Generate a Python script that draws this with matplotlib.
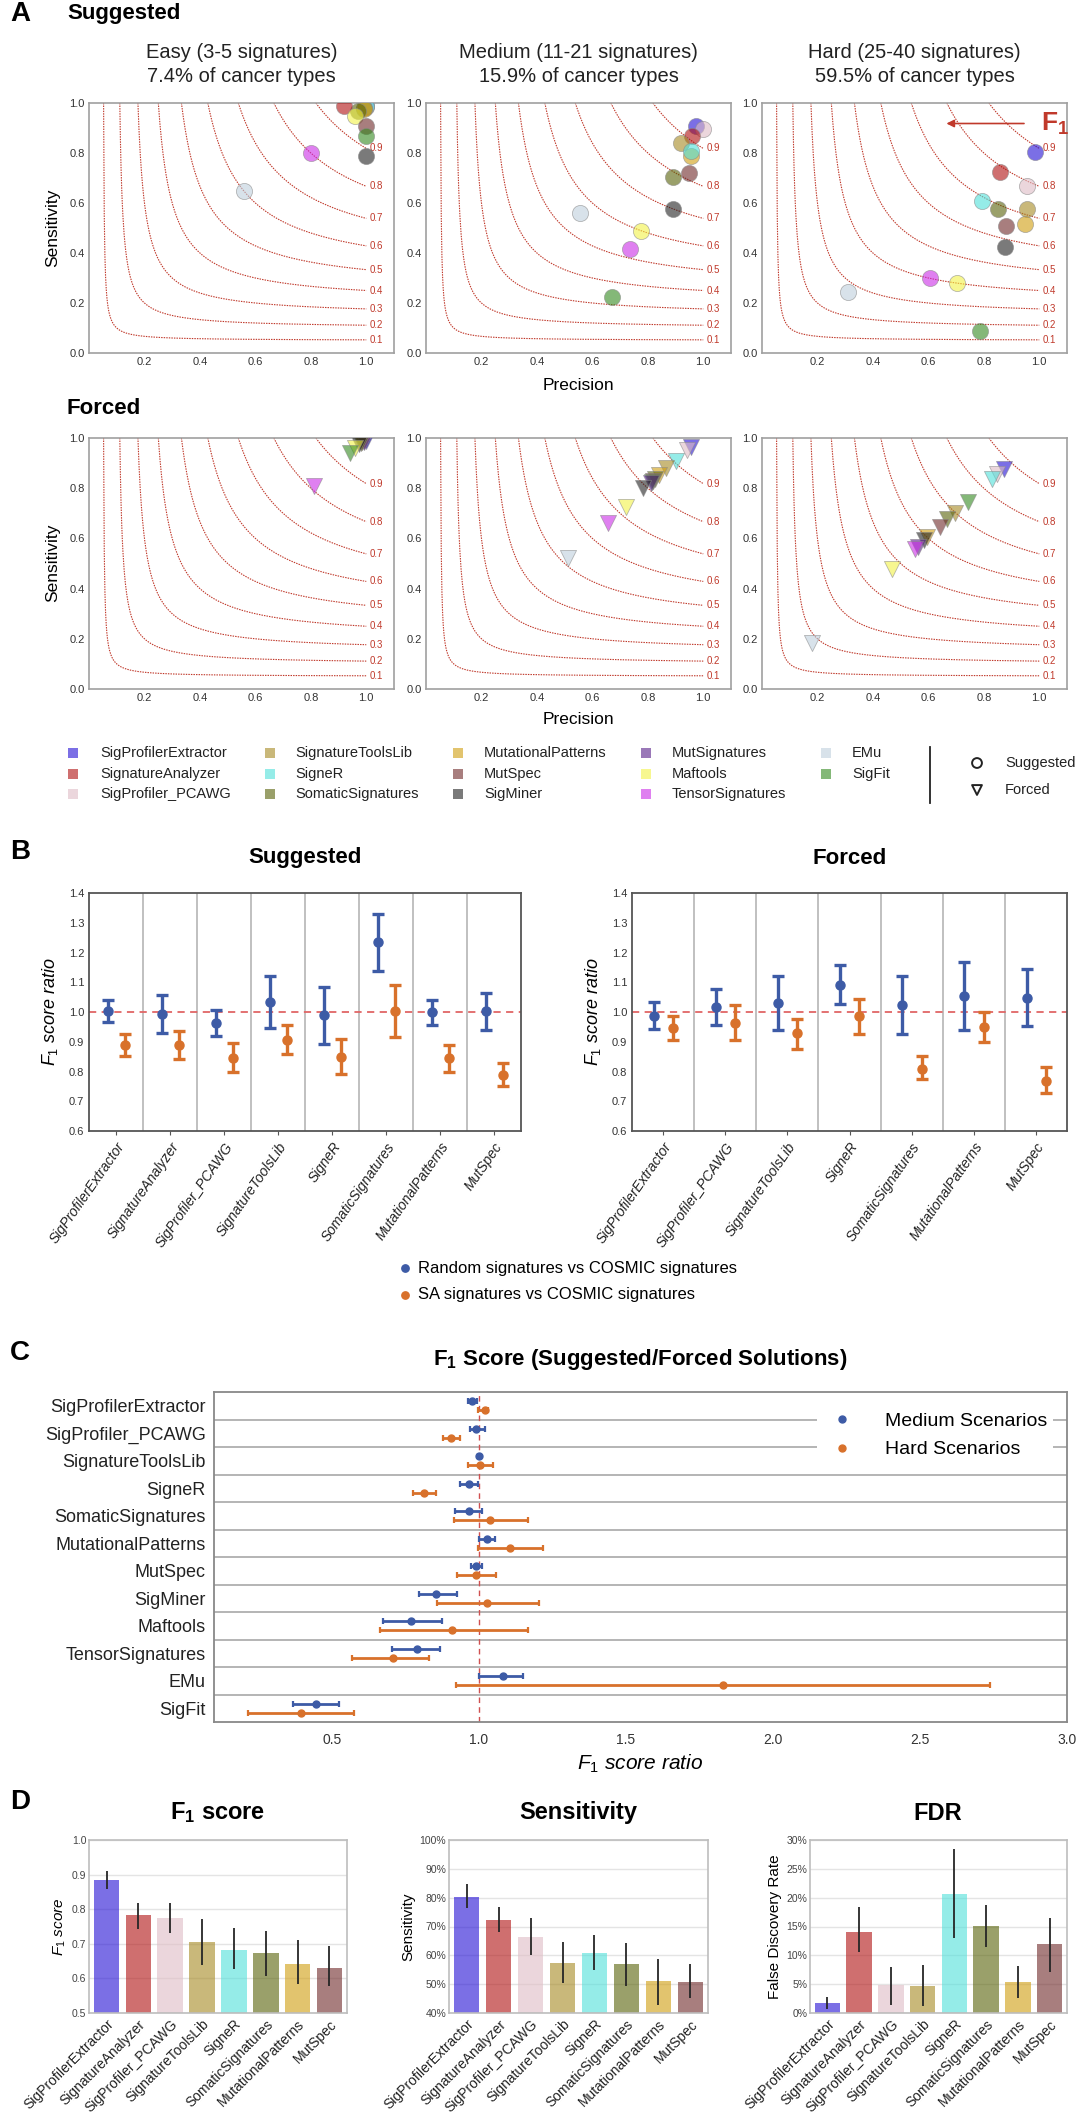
import numpy as np
import matplotlib
matplotlib.use("Agg")
import matplotlib.pyplot as plt
from matplotlib.lines import Line2D

plt.rcParams['font.family'] = ['Liberation Sans', 'DejaVu Sans']
plt.rcParams['mathtext.fontset'] = 'custom'
plt.rcParams['mathtext.rm'] = 'Liberation Sans'
plt.rcParams['mathtext.it'] = 'Liberation Sans:italic'
plt.rcParams['mathtext.bf'] = 'Liberation Sans:bold'

# ---------------- data ----------------
tool_names = ["SigProfilerExtractor", "SignatureAnalyzer", "SigProfiler_PCAWG",
              "SignatureToolsLib", "SigneR", "SomaticSignatures",
              "MutationalPatterns", "MutSpec", "SigMiner",
              "MutSignatures", "Maftools", "TensorSignatures",
              "EMu", "SigFit"]
tool_colors = ["#230fd5", "#b01010", "#dfbcc5",
               "#a58921", "#4fe0da", "#576107",
               "#d09d0d", "#6e2828", "#212121",
               "#571e89", "#f3f346", "#cb2be6",
               "#becfdc", "#32891e"]
col = dict(zip(tool_names, tool_colors))

f1_levels = [0.1, 0.2, 0.3, 0.4, 0.5, 0.6, 0.7, 0.8, 0.9]

# panel A, suggested
easy_sug_tools = ["SigProfilerExtractor", "SigProfiler_PCAWG", "SigneR", "SignatureToolsLib",
                  "MutationalPatterns", "SomaticSignatures", "SignatureAnalyzer", "Maftools",
                  "MutSpec", "SigFit", "SigMiner", "TensorSignatures", "EMu"]
easy_sug_prec = [1.0, 1.0, 1.0, 0.99, 0.99, 0.97, 0.92, 0.96, 1.0, 1.0, 1.0, 0.80, 0.56]
easy_sug_sens = [0.99, 0.985, 0.99, 0.98, 0.975, 0.97, 0.99, 0.95, 0.91, 0.87, 0.79, 0.80, 0.65]

med_sug_tools = ["SigProfilerExtractor", "SigProfiler_PCAWG", "SignatureAnalyzer", "SignatureToolsLib",
                 "MutationalPatterns", "SigneR", "SomaticSignatures", "MutSpec", "SigMiner",
                 "EMu", "Maftools", "TensorSignatures", "SigFit"]
med_sug_prec = [0.975, 1.0, 0.96, 0.92, 0.955, 0.955, 0.89, 0.95, 0.89, 0.555, 0.775, 0.735, 0.67]
med_sug_sens = [0.91, 0.895, 0.868, 0.84, 0.79, 0.81, 0.705, 0.72, 0.575, 0.56, 0.49, 0.415, 0.225]

hard_sug_tools = ["SigProfilerExtractor", "SignatureAnalyzer", "SigProfiler_PCAWG", "SigneR",
                  "SomaticSignatures", "SignatureToolsLib", "MutSpec", "MutationalPatterns",
                  "SigMiner", "TensorSignatures", "Maftools", "EMu", "SigFit"]
hard_sug_prec = [0.985, 0.86, 0.955, 0.795, 0.85, 0.955, 0.88, 0.95, 0.875, 0.605, 0.705, 0.31, 0.785]
hard_sug_sens = [0.805, 0.725, 0.67, 0.61, 0.575, 0.575, 0.51, 0.515, 0.425, 0.30, 0.28, 0.245, 0.09]

# panel A, forced
easy_for_tools = ["EMu", "SigneR", "SigProfilerExtractor", "SigProfiler_PCAWG", "SignatureToolsLib",
                  "MutationalPatterns", "MutSpec", "MutSignatures", "SomaticSignatures",
                  "SigMiner", "Maftools", "SigFit", "TensorSignatures"]
easy_for_prec = [1.0, 1.0, 1.0, 0.99, 0.99, 0.98, 0.985, 0.99, 0.98, 0.975, 0.96, 0.94, 0.81]
easy_for_sens = [0.995, 0.995, 0.99, 0.995, 0.99, 0.99, 0.985, 0.985, 0.98, 0.975, 0.96, 0.94, 0.81]

med_for_tools = ["SigProfilerExtractor", "SigProfiler_PCAWG", "SigneR", "SignatureToolsLib",
                 "MutationalPatterns", "SomaticSignatures", "MutSpec", "SigFit", "MutSignatures",
                 "SigMiner", "Maftools", "TensorSignatures", "EMu"]
med_for_prec = [0.957, 0.942, 0.90, 0.867, 0.84, 0.827, 0.82, 0.815, 0.81, 0.783, 0.72, 0.655, 0.512]
med_for_sens = [0.965, 0.952, 0.91, 0.882, 0.853, 0.835, 0.83, 0.826, 0.82, 0.80, 0.724, 0.66, 0.521]

hard_for_tools = ["SigProfilerExtractor", "SigProfiler_PCAWG", "SigneR", "SigFit", "SignatureToolsLib",
                  "SomaticSignatures", "MutSpec", "MutationalPatterns", "SigMiner", "MutSignatures",
                  "TensorSignatures", "Maftools", "EMu"]
hard_for_prec = [0.871, 0.846, 0.83, 0.744, 0.697, 0.668, 0.641, 0.595, 0.586, 0.561, 0.552, 0.468, 0.18]
hard_for_sens = [0.875, 0.857, 0.835, 0.746, 0.70, 0.676, 0.647, 0.604, 0.594, 0.567, 0.557, 0.477, 0.182]

# panel B
b_sug_tools = ["SigProfilerExtractor", "SignatureAnalyzer", "SigProfiler_PCAWG", "SignatureToolsLib",
               "SigneR", "SomaticSignatures", "MutationalPatterns", "MutSpec"]
b_sug_rand = [1.003, 0.993, 0.963, 1.034, 0.989, 1.234, 0.999, 1.002]
b_sug_rand_lo = [0.965, 0.93, 0.918, 0.946, 0.894, 1.139, 0.955, 0.941]
b_sug_rand_hi = [1.04, 1.056, 1.006, 1.12, 1.084, 1.33, 1.039, 1.064]
b_sug_sa = [0.89, 0.89, 0.845, 0.905, 0.849, 1.002, 0.845, 0.789]
b_sug_sa_lo = [0.853, 0.842, 0.798, 0.859, 0.79, 0.915, 0.798, 0.751]
b_sug_sa_hi = [0.926, 0.935, 0.896, 0.955, 0.91, 1.092, 0.89, 0.83]

b_for_tools = ["SigProfilerExtractor", "SigProfiler_PCAWG", "SignatureToolsLib", "SigneR",
               "SomaticSignatures", "MutationalPatterns", "MutSpec"]
b_for_rand = [0.988, 1.017, 1.03, 1.092, 1.025, 1.053, 1.047]
b_for_rand_lo = [0.944, 0.957, 0.938, 1.027, 0.927, 0.938, 0.952]
b_for_rand_hi = [1.034, 1.078, 1.12, 1.157, 1.122, 1.167, 1.145]
b_for_sa = [0.946, 0.963, 0.929, 0.985, 0.81, 0.948, 0.769]
b_for_sa_lo = [0.905, 0.905, 0.877, 0.927, 0.774, 0.898, 0.727]
b_for_sa_hi = [0.985, 1.024, 0.978, 1.044, 0.851, 0.999, 0.816]

# panel C
c_tools = ["SigProfilerExtractor", "SigProfiler_PCAWG", "SignatureToolsLib", "SigneR",
           "SomaticSignatures", "MutationalPatterns", "MutSpec", "SigMiner", "Maftools",
           "TensorSignatures", "EMu", "SigFit"]
c_med = [0.978, 0.992, 1.001, 0.966, 0.966, 1.029, 0.992, 0.856, 0.77, 0.789, 1.081, 0.448]
c_med_lo = [0.963, 0.97, 0.996, 0.936, 0.918, 1.002, 0.974, 0.797, 0.675, 0.706, 1.002, 0.368]
c_med_hi = [0.993, 1.02, 1.006, 0.999, 1.011, 1.054, 1.011, 0.925, 0.876, 0.87, 1.15, 0.526]
c_hard = [1.02, 0.905, 1.006, 0.814, 1.038, 1.106, 0.99, 1.029, 0.91, 0.709, 1.831, 0.395]
c_hard_lo = [0.997, 0.878, 0.963, 0.777, 0.917, 0.999, 0.925, 0.857, 0.664, 0.569, 0.923, 0.215]
c_hard_hi = [1.03, 0.936, 1.05, 0.855, 1.169, 1.22, 1.059, 1.204, 1.169, 0.832, 2.739, 0.575]

# panel D
d_tools = ["SigProfilerExtractor", "SignatureAnalyzer", "SigProfiler_PCAWG", "SignatureToolsLib",
           "SigneR", "SomaticSignatures", "MutationalPatterns", "MutSpec"]
d_f1 = [0.884, 0.783, 0.776, 0.706, 0.683, 0.674, 0.643, 0.631]
d_f1_lo = [0.858, 0.742, 0.73, 0.64, 0.626, 0.607, 0.583, 0.577]
d_f1_hi = [0.91, 0.819, 0.819, 0.773, 0.746, 0.737, 0.71, 0.693]
d_sens = [80.3, 72.4, 66.2, 57.5, 60.8, 57.1, 51.0, 50.7]
d_sens_lo = [76.5, 68.1, 60.0, 50.4, 54.8, 49.3, 42.7, 45.3]
d_sens_hi = [84.6, 76.6, 73.0, 64.6, 67.0, 64.3, 58.9, 56.9]
d_fdr = [1.8, 14.1, 4.8, 4.7, 20.6, 15.1, 5.3, 12.0]
d_fdr_lo = [0.75, 10.6, 1.4, 1.2, 13.0, 11.4, 2.6, 7.1]
d_fdr_hi = [2.8, 18.4, 8.0, 8.3, 28.4, 18.8, 8.1, 16.4]

RED = "#c0392b"
BLUE = "#3d5ba6"
ORANGE = "#d8712b"

W, H = 1080, 2115
fig = plt.figure(figsize=(10.8, 21.15), dpi=100)


def px_axes(l, t, r, b):
    return fig.add_axes([l / W, 1 - b / H, (r - l) / W, (b - t) / H])


def f1_panel(ax, tools, prec, sens, marker, show_y):
    for f in f1_levels:
        p = np.linspace(f / (2 - f), 1.0, 400)
        r = f * p / (2 * p - f)
        ax.plot(p, r, color=RED, lw=0.8, ls=(0, (1.3, 1.0)), zorder=1)
        ax.text(1.012, f / (2 - f), f"{f:.1f}", color=RED, fontsize=7,
                ha="left", va="center", zorder=2)
    for t, x, y in zip(tools, prec, sens):
        ax.scatter(x, y, s=135, marker=marker, color=col[t], alpha=0.6,
                   edgecolors="#8a8a8a", linewidths=0.6, zorder=3)
    ax.set_xlim(0, 1.1)
    ax.set_ylim(0, 1.0)
    ax.set_xticks([0.2, 0.4, 0.6, 0.8, 1.0])
    ax.set_xticklabels(["0.2", "0.4", "0.6", "0.8", "1.0"])
    ax.set_yticks([0, 0.2, 0.4, 0.6, 0.8, 1.0])
    ax.set_yticklabels(["0.0", "0.2", "0.4", "0.6", "0.8", "1.0"])
    ax.tick_params(length=0, labelsize=8, labelcolor="#333333", pad=3)
    for s in ax.spines.values():
        s.set_color("#a0a0a0")
        s.set_linewidth(1.2)


cols_px = [(89, 394), (426, 731), (762, 1067)]
sug_sets = [(easy_sug_tools, easy_sug_prec, easy_sug_sens),
            (med_sug_tools, med_sug_prec, med_sug_sens),
            (hard_sug_tools, hard_sug_prec, hard_sug_sens)]
for_sets = [(easy_for_tools, easy_for_prec, easy_for_sens),
            (med_for_tools, med_for_prec, med_for_sens),
            (hard_for_tools, hard_for_prec, hard_for_sens)]

for i, (l, r) in enumerate(cols_px):
    ax = px_axes(l, 103, r, 353)
    f1_panel(ax, *sug_sets[i], "o", i == 0)
    if i == 2:
        ax.annotate("", xy=(0.655, 0.918), xytext=(0.955, 0.918),
                    arrowprops=dict(arrowstyle="-|>", color=RED, lw=1.2, mutation_scale=11))
        ax.text(1.005, 0.918, r"$\mathbf{F_1}$", color=RED, fontsize=19,
                ha="left", va="center", zorder=4)
    ax2 = px_axes(l, 438, r, 689)
    f1_panel(ax2, *for_sets[i], "v", i == 0)

# ---------------- panel B ----------------
def ratio_panel(ax, tools, rnd, rlo, rhi, sa, slo, shi):
    x = np.arange(len(tools))
    rnd, rlo, rhi = np.array(rnd), np.array(rlo), np.array(rhi)
    sa, slo, shi = np.array(sa), np.array(slo), np.array(shi)
    for i in range(len(tools) - 1):
        ax.axvline(i + 0.5, color="#b5b5b5", lw=1.2, zorder=1)
    ax.axhline(1.0, color="#e06666", ls=(0, (4, 3)), lw=1.3, zorder=1)
    ax.errorbar(x - 0.15, rnd, yerr=[rnd - rlo, rhi - rnd], fmt="o", color=BLUE,
                ms=6.5, elinewidth=2.4, capsize=4.5, capthick=2.4, zorder=3)
    ax.errorbar(x + 0.16, sa, yerr=[sa - slo, shi - sa], fmt="o", color=ORANGE,
                ms=6.5, elinewidth=2.4, capsize=4.5, capthick=2.4, zorder=3)
    ax.set_xlim(-0.5, len(tools) - 0.5)
    ax.set_ylim(0.6, 1.4)
    ax.set_yticks(np.arange(0.6, 1.41, 0.1))
    ax.set_yticklabels([f"{v:.1f}" for v in np.arange(0.6, 1.41, 0.1)])
    ax.set_xticks(x)
    ax.set_xticklabels(tools, rotation=55, ha="right", rotation_mode="anchor",
                       fontsize=10, style="italic")
    ax.tick_params(axis="y", length=0, labelsize=8, labelcolor="#333333")
    ax.tick_params(axis="x", length=3, color="#555555", labelcolor="#222222")
    ax.set_ylabel(r"$F_1$ score ratio", fontsize=13, style="italic", labelpad=6)
    for s in ax.spines.values():
        s.set_color("#555555")
        s.set_linewidth(1.3)


axb1 = px_axes(89, 893, 521, 1131)
ratio_panel(axb1, b_sug_tools, b_sug_rand, b_sug_rand_lo, b_sug_rand_hi,
            b_sug_sa, b_sug_sa_lo, b_sug_sa_hi)
axb2 = px_axes(632, 893, 1067, 1131)
ratio_panel(axb2, b_for_tools, b_for_rand, b_for_rand_lo, b_for_rand_hi,
            b_for_sa, b_for_sa_lo, b_for_sa_hi)

# ---------------- panel C ----------------
axc = px_axes(214, 1392, 1067, 1722)
yc = np.arange(len(c_tools))
cm, cml, cmh = np.array(c_med), np.array(c_med_lo), np.array(c_med_hi)
ch, chl, chh = np.array(c_hard), np.array(c_hard_lo), np.array(c_hard_hi)
for i in range(1, len(c_tools)):
    axc.axhline(i - 0.5, color="#a8a8a8", lw=1.2, zorder=1)
axc.axvline(1.0, color="#d05050", ls=(0, (4, 3)), lw=1.0, zorder=1)
axc.errorbar(cm, yc - 0.16, xerr=[cm - cml, cmh - cm], fmt="o", color=BLUE,
             ms=5, elinewidth=2, capsize=2.5, capthick=1.6, zorder=3)
axc.errorbar(ch, yc + 0.16, xerr=[ch - chl, chh - ch], fmt="o", color=ORANGE,
             ms=5, elinewidth=2, capsize=2.5, capthick=1.6, zorder=3)
axc.set_xlim(0.1, 3.0)
axc.set_ylim(len(c_tools) - 0.5, -0.5)
axc.set_yticks(yc)
axc.set_yticklabels(c_tools, fontsize=13)
axc.set_xticks([0.5, 1.0, 1.5, 2.0, 2.5, 3.0])
axc.set_xticklabels(["0.5", "1.0", "1.5", "2.0", "2.5", "3.0"])
axc.tick_params(axis="x", length=0, labelsize=10, labelcolor="#333333", pad=8)
axc.tick_params(axis="y", length=0, labelcolor="#222222", pad=6)
axc.set_xlabel(r"$F_1$ score ratio", fontsize=15, style="italic", labelpad=4)
for s in axc.spines.values():
    s.set_color("#888888")
    s.set_linewidth(1.3)
leg_handles = [Line2D([], [], ls="none", marker="o", ms=5, color=BLUE),
               Line2D([], [], ls="none", marker="o", ms=5, color=ORANGE)]
leg = axc.legend(leg_handles, ["Medium Scenarios", "Hard Scenarios"], loc="upper right",
                 bbox_to_anchor=(0.995, 0.985), fontsize=14, frameon=True,
                 handletextpad=1.2, labelspacing=0.55, borderpad=0.3)
leg.get_frame().set_edgecolor("none")
leg.get_frame().set_facecolor("white")
leg.get_frame().set_alpha(1)

# ---------------- panel D ----------------
def bar_panel(ax, vals, lo, hi, ylim, ticks, ticklabels, ylabel, ystyle="normal"):
    x = np.arange(len(d_tools))
    ax.bar(x, vals, width=0.8, color=[col[t] for t in d_tools], alpha=0.6,
           zorder=2, bottom=0)
    ax.vlines(x, lo, hi, color="#262626", lw=1.3, zorder=3)
    ax.set_xlim(-0.55, len(d_tools) - 0.45)
    ax.set_ylim(*ylim)
    ax.set_yticks(ticks)
    ax.set_yticklabels(ticklabels)
    ax.yaxis.grid(True, color="#e4e4e4", lw=1)
    ax.set_axisbelow(True)
    ax.set_xticks(x)
    ax.set_xticklabels(d_tools, rotation=45, ha="right", rotation_mode="anchor", fontsize=10)
    ax.tick_params(axis="y", length=0, labelsize=7.5, labelcolor="#444444", pad=2)
    ax.tick_params(axis="x", length=0, pad=3, labelcolor="#222222")
    ax.set_ylabel(ylabel, fontsize=11, style=ystyle, labelpad=3)
    for s in ax.spines.values():
        s.set_color("#bdbdbd")
        s.set_linewidth(1.2)


axd1 = px_axes(89, 1840, 347, 2013)
bar_panel(axd1, d_f1, d_f1_lo, d_f1_hi, (0.5, 1.0), [0.5, 0.6, 0.7, 0.8, 0.9, 1.0],
          ["0.5", "0.6", "0.7", "0.8", "0.9", "1.0"], r"$F_1$ score", "italic")
axd2 = px_axes(449, 1840, 708, 2013)
bar_panel(axd2, d_sens, d_sens_lo, d_sens_hi, (40, 100), [40, 50, 60, 70, 80, 90, 100],
          ["40%", "50%", "60%", "70%", "80%", "90%", "100%"], "Sensitivity")
axd3 = px_axes(810, 1840, 1067, 2013)
bar_panel(axd3, d_fdr, d_fdr_lo, d_fdr_hi, (0, 30), [0, 5, 10, 15, 20, 25, 30],
          ["0%", "5%", "10%", "15%", "20%", "25%", "30%"], "False Discovery Rate")

# ---------------- overlay texts ----------------
ov = fig.add_axes([0, 0, 1, 1])
ov.set_xlim(0, W)
ov.set_ylim(H, 0)
ov.axis("off")

ov.text(10, 14, "A", fontsize=20, fontweight="bold", va="center", ha="left")
ov.text(67, 14, "Suggested", fontsize=16, fontweight="bold", va="center", ha="left")
ov.text(67, 408, "Forced", fontsize=16, fontweight="bold", va="center", ha="left")
titles1 = ["Easy (3-5 signatures)", "Medium (11-21 signatures)", "Hard (25-40 signatures)"]
titles2 = ["7.4% of cancer types", "15.9% of cancer types", "59.5% of cancer types"]
for (l, r), t1, t2 in zip(cols_px, titles1, titles2):
    ov.text((l + r) / 2, 52, t1, fontsize=14.5, ha="center", va="center", color="#222222")
    ov.text((l + r) / 2, 76, t2, fontsize=14.5, ha="center", va="center", color="#222222")
for yc_ in (228, 563):
    ov.text(53, yc_, "Sensitivity", fontsize=12.5, rotation=90, ha="center", va="center")
ov.text(578, 386, "Precision", fontsize=12.5, ha="center", va="center")
ov.text(578, 720, "Precision", fontsize=12.5, ha="center", va="center")

# legend of panel A
leg_cols_x = [(73, 100), (270, 295), (458, 484), (646, 672), (826, 852)]
leg_rows_y = [753, 774, 794]
for k, name in enumerate(tool_names):
    cx, tx = leg_cols_x[k // 3]
    ry = leg_rows_y[k % 3]
    ov.scatter(cx, ry, marker="s", s=45, color=col[name], alpha=0.6, edgecolors="none")
    ov.text(tx, ry, name, fontsize=10.5, ha="left", va="center", color="#222222")
ov.plot([930, 930], [747, 803], color="#222222", lw=1.3)
ov.scatter(977, 763, marker="o", s=50, facecolors="none", edgecolors="#222222", linewidths=1.4)
ov.scatter(977, 790, marker="v", s=50, facecolors="none", edgecolors="#222222", linewidths=1.4)
ov.text(1005, 763, "Suggested", fontsize=10.5, ha="left", va="center", color="#222222")
ov.text(1005, 790, "Forced", fontsize=10.5, ha="left", va="center", color="#222222")

# panel B labels
ov.text(10, 852, "B", fontsize=20, fontweight="bold", va="center", ha="left")
ov.text(305, 858, "Suggested", fontsize=16, fontweight="bold", va="center", ha="center")
ov.text(850, 858, "Forced", fontsize=16, fontweight="bold", va="center", ha="center")
ov.scatter(405, 1268, s=28, color=BLUE)
ov.scatter(405, 1295, s=28, color=ORANGE)
ov.text(418, 1268, "Random signatures vs COSMIC signatures", fontsize=12, ha="left", va="center")
ov.text(418, 1295, "SA signatures vs COSMIC signatures", fontsize=12, ha="left", va="center")

# panel C labels
ov.text(10, 1353, "C", fontsize=20, fontweight="bold", va="center", ha="left")
ov.text(640, 1360, r"$\mathbf{F_1}$ Score (Suggested/Forced Solutions)", fontsize=16,
        fontweight="bold", ha="center", va="center")

# panel D labels
ov.text(10, 1802, "D", fontsize=20, fontweight="bold", va="center", ha="left")
ov.text(218, 1813, r"$\mathbf{F_1}$ score", fontsize=17, fontweight="bold", ha="center", va="center")
ov.text(578, 1813, "Sensitivity", fontsize=17, fontweight="bold", ha="center", va="center")
ov.text(938, 1813, "FDR", fontsize=17, fontweight="bold", ha="center", va="center")

fig.savefig("out.png", dpi=100, facecolor="white")
